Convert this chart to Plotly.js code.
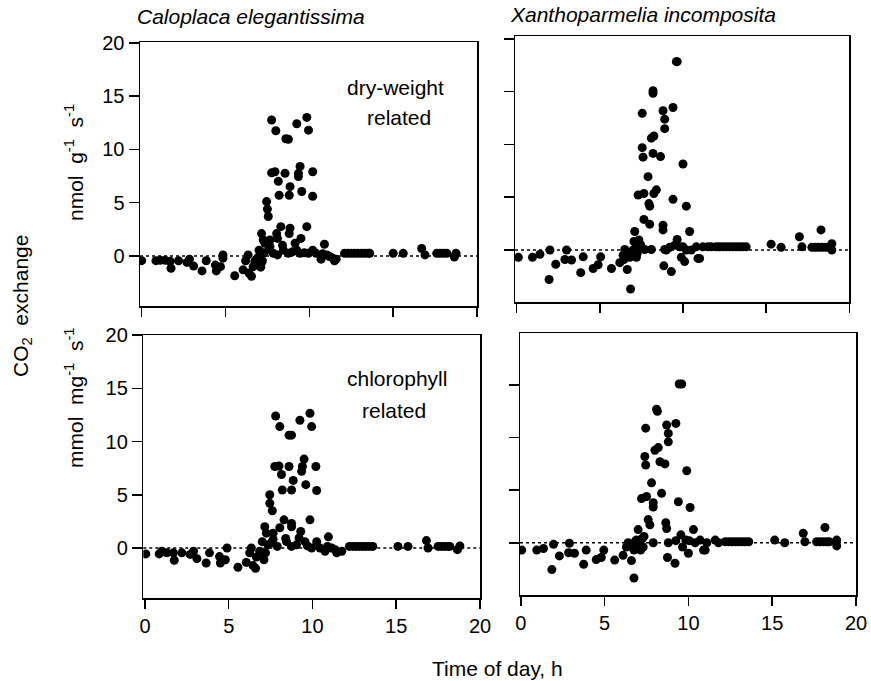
<!DOCTYPE html>
<html>
<head>
<meta charset="utf-8">
<script src="https://cdn.plot.ly/plotly-3.0.1.min.js"></script>
<style>html,body{margin:0;padding:0;background:#fff;}#chart{width:871px;height:681px;}</style>
</head>
<body>
<div id="chart"></div>
<script>
// ---------- data (time of day, h  /  CO2 exchange) ----------
const tickVals = [0, 5, 10, 15, 20];
const tickText = ["0", "5", "10", "15", "20"];

const speciesLeft = "Caloplaca elegantissima";
const speciesRight = "Xanthoparmelia incomposita";
const basisTop = ["dry-weight", "related"];
const basisBottom = ["chlorophyll", "related"];
const unitTop = "nmol  g<sup>-1</sup>  s<sup>-1</sup>";
const unitBottom = "mmol  mg<sup>-1</sup>  s<sup>-1</sup>";
const commonY = "CO<sub>2</sub>  exchange";
const commonX = "Time of day, h";

// Caloplaca elegantissima, dry-weight related
const caloDryX = [0, 0.85, 1.1, 1.4, 1.75, 1.7, 2.2, 2.7, 2.85, 3.1,
  3.6, 3.85, 4.4, 4.45, 4.7, 4.85, 4.85, 5.55, 6.05, 6.2,
  6.35, 6.4, 6.55, 6.65, 6.75, 6.95, 7.1, 7.15, 7.0, 7.2,
  7.15, 7.25, 7.35, 7.45, 7.5, 7.55, 7.65, 7.65, 7.75, 7.75,
  7.85, 7.95, 8.0, 8.05, 8.1, 8.1, 8.15, 8.2, 8.3, 8.45,
  8.55, 8.6, 8.75, 8.75, 8.8, 8.85, 8.85, 8.8, 9.15, 9.25,
  9.25, 9.35, 9.35, 9.45, 9.45, 9.5, 9.55, 9.85, 9.85, 9.95,
  9.95, 10.2, 10.2, 10.2, 10.4, 10.7, 10.8, 10.9, 11.05, 11.2,
  11.4, 11.5, 11.6, 12.1, 12.3, 12.5, 12.7, 12.9, 13.1, 13.3,
  13.5, 13.6, 15.0, 15.6, 16.7, 16.9, 17.6, 17.8, 18.0, 18.2,
  18.65, 18.75, 6.85, 7.3, 7.6, 8.4, 9.0, 9.7];
const caloDryY = [-0.44, -0.44, -0.4, -0.4, -1.15, -0.5, -0.45, -0.6, -0.3, -0.95,
  -1.4, -0.45, -0.85, -1.4, -1.0, 0.1, -0.2, -1.85, -1.3, -0.45,
  0.1, -1.6, -1.9, -1.0, -0.5, -0.1, -1.05, -0.6, 0.55, -0.45,
  2.1, 1.5, 1.2, 5.1, 4.4, 3.7, 1.5, 0.9, 12.75, 7.8,
  0.25, 7.9, 11.75, 2.1, 1.65, 0.1, 7.0, 5.7, 2.75, 0.55,
  7.75, 11.0, 10.95, 0.25, 5.7, 6.5, 2.6, 2.1, 1.2, 0.55,
  12.4, 7.75, 7.45, 8.4, 0.25, 1.65, 6.05, 13.0, 2.75, 11.8,
  0.25, 7.9, 5.6, 0.55, 0.25, -0.3, 0.2, 1.1, 0.1, -0.05,
  -0.2, -0.45, -0.3, 0.25, 0.25, 0.25, 0.25, 0.25, 0.25, 0.25,
  0.25, 0.25, 0.25, 0.25, 0.7, 0.1, 0.25, 0.25, 0.25, 0.25,
  -0.1, 0.25, -0.3, 0.3, 0.6, 1.0, 0.4, 0.3];

// Caloplaca elegantissima, chlorophyll related
const caloChlX = [0.05, 0.85, 1.0, 1.3, 1.75, 1.7, 2.2, 2.7, 2.9, 3.1,
  3.65, 3.85, 4.45, 4.5, 4.8, 4.9, 5.55, 6.05, 6.25, 6.35,
  6.45, 6.6, 6.65, 6.85, 7.0, 7.1, 7.2, 7.15, 7.25, 7.45,
  7.45, 7.6, 7.65, 7.65, 7.8, 7.75, 7.9, 8.0, 8.05, 8.05,
  8.15, 8.2, 8.3, 8.45, 8.6, 8.6, 8.75, 8.75, 8.75, 8.75,
  8.85, 8.75, 9.2, 9.25, 9.3, 9.35, 9.4, 9.5, 9.55, 9.6,
  9.85, 9.85, 9.95, 9.95, 10.2, 10.25, 10.25, 10.45, 10.75, 10.9,
  10.95, 11.15, 11.35, 11.45, 11.75, 12.2, 12.4, 12.6, 12.8, 13.0,
  13.2, 13.4, 13.6, 15.1, 15.7, 16.8, 16.9, 17.5, 17.7, 17.9,
  18.1, 18.2, 18.65, 18.8, 6.9, 7.35, 7.55, 8.4, 9.05, 9.7];
const caloChlY = [-0.55, -0.55, -0.3, -0.45, -1.15, -0.45, -0.45, -0.6, -0.3, -1.0,
  -1.4, -0.45, -0.8, -1.4, -1.1, 0.0, -1.8, -1.35, -0.45, 0.0,
  -1.65, -1.9, -0.85, -0.3, 0.6, -1.1, -0.45, 2.0, 1.4, 5.0,
  4.2, 3.5, 1.4, 0.8, 12.4, 7.65, 0.15, 7.7, 11.4, 1.9,
  6.9, 5.45, 2.65, 0.6, 7.65, 10.6, 10.6, 0.15, 2.3, 2.0,
  6.35, 5.45, 0.95, 12.0, 1.55, 7.2, 7.65, 8.35, 0.6, 5.95,
  12.65, 2.65, 11.4, 0.0, 7.65, 5.4, 0.6, 0.0, -0.3, 0.15,
  1.05, 0.0, -0.15, -0.45, -0.3, 0.15, 0.15, 0.15, 0.15, 0.15,
  0.15, 0.15, 0.15, 0.15, 0.15, 0.7, 0.0, 0.15, 0.15, 0.15,
  0.15, 0.15, -0.15, 0.2, -0.4, 0.3, 0.5, 0.9, 0.3, 0.2];

// Xanthoparmelia incomposita, dry-weight related
const xanDryX = [0.1, 0.95, 1.4, 2.0, 1.95, 2.35, 3.0, 2.9, 3.3, 3.85,
  4.0, 4.6, 4.9, 5.05, 5.7, 6.2, 6.4, 6.5, 6.65, 6.85,
  6.8, 7.0, 7.05, 7.1, 7.2, 7.35, 7.3, 7.55, 7.55, 7.6,
  7.65, 7.65, 7.7, 7.9, 7.95, 8.0, 8.0, 8.1, 8.2, 8.2,
  8.1, 8.25, 8.2, 8.25, 8.4, 8.65, 8.8, 8.8, 8.8, 8.85,
  8.9, 8.9, 8.9, 9.0, 9.3, 9.4, 9.4, 9.5, 9.6, 9.65,
  9.65, 9.9, 10.0, 10.1, 10.2, 10.2, 10.4, 10.5, 10.8, 10.9,
  11.0, 11.2, 11.5, 11.7, 12.0, 12.2, 12.4, 12.6, 12.8, 13.0,
  13.2, 13.4, 13.6, 13.8, 15.3, 15.9, 17.0, 17.15, 17.75, 17.95,
  18.15, 18.3, 18.35, 18.55, 18.75, 18.95, 18.95,
  6.6, 6.95, 7.15, 7.25, 7.4, 6.45, 9.2, 9.8, 10.0, 7.45];
const xanDryY = [-0.7, -0.7, -0.4, 0.0, -2.8, -1.35, 0.0, -0.9, -0.95, -2.15,
  -0.65, -1.75, -1.4, -0.65, -1.75, -1.2, -0.5, 0.05, -1.85, -3.7,
  -0.7, 0.0, 0.8, 1.75, -0.7, 0.95, 5.2, 12.95, 9.7, 8.8,
  5.35, 2.9, 0.05, 6.95, 4.4, 4.15, 2.45, 0.05, 15.1, 14.85,
  10.6, 10.8, 9.15, 5.35, 5.7, 8.85, 13.2, 2.35, 1.9, -1.5,
  12.4, 11.5, 0.05, 0.0, -2.05, 13.5, 4.8, 0.45, 17.85, 17.85,
  1.0, -0.7, 8.15, -1.1, 4.15, 0.0, 1.75, 0.0, 0.3, -0.8,
  -0.8, 0.3, 0.3, 0.3, 0.3, 0.3, 0.3, 0.3, 0.3, 0.3,
  0.3, 0.3, 0.3, 0.3, 0.55, 0.25, 1.25, 0.3, 0.25, 0.25,
  0.25, 1.9, 0.25, 0.25, 0.25, 0.6, 0.0,
  -0.3, -0.4, 0.2, -0.3, 0.4, -0.9, 0.25, 0.3, 0.3, 0.5];

// Xanthoparmelia incomposita, chlorophyll related
const xanChlX = [0.05, 0.95, 1.35, 1.95, 1.85, 2.3, 2.9, 2.85, 3.2, 3.75,
  3.9, 4.5, 4.8, 4.95, 5.6, 6.1, 6.3, 6.4, 6.6, 6.75,
  6.75, 6.9, 7.0, 7.15, 7.25, 7.2, 7.45, 7.4, 7.45, 7.5,
  7.6, 7.7, 7.9, 7.8, 7.9, 7.9, 8.1, 8.15, 8.0, 8.2,
  8.3, 8.4, 8.6, 8.65, 8.7, 8.7, 8.8, 8.8, 8.8, 8.75,
  9.2, 9.25, 9.4, 9.55, 9.45, 9.6, 9.65, 9.9, 10.0, 10.1,
  10.3, 10.4, 10.7, 10.9, 11.0, 11.1, 11.6, 11.8, 12.2, 12.4,
  12.6, 12.8, 13.0, 13.2, 13.4, 13.6, 15.15, 15.75, 16.85, 16.95,
  17.65, 17.85, 18.05, 18.15, 18.25, 18.4, 18.85, 18.85,
  6.55, 6.95, 7.1, 7.3, 6.85, 9.25, 9.85, 10.05, 7.35];
const xanChlY = [-0.7, -0.7, -0.55, -0.15, -2.55, -1.25, -0.05, -0.95, -1.0, -2.05,
  -0.7, -1.6, -1.4, -0.7, -1.65, -1.2, -0.4, 0.0, -1.7, -3.35,
  -0.7, 0.25, 1.25, -0.7, 0.4, 4.2, 10.9, 8.2, 7.4, 4.4,
  2.2, 1.7, 0.0, 5.7, 3.8, 3.4, 12.7, 12.5, 8.8, 9.05,
  7.7, 4.7, 7.5, 1.9, 1.35, 11.2, 10.4, 9.6, 0.0, -1.4,
  -1.95, 11.35, 3.9, 0.75, 15.1, 15.1, -0.4, 6.85, -1.0, 3.35,
  1.25, 0.0, 0.25, -0.7, -0.7, 0.0, 0.25, 0.0, 0.1, 0.1,
  0.1, 0.1, 0.1, 0.1, 0.1, 0.1, 0.25, 0.0, 0.9, 0.1,
  0.1, 0.1, 0.1, 1.45, 0.1, 0.1, 0.25, -0.3,
  -0.3, -0.3, 0.1, -0.4, 0.2, 0.2, 0.25, 0.2, 0.6];

// ---------- layout helpers (pixel -> paper) ----------
const W = 871, H = 681;
const px = v => v / W;
const py = v => 1 - v / H;

const markerStyle = {color: "#000", size: 9, line: {width: 0}};
function tr(x, y, xa, ya) {
  return {x: x, y: y, xaxis: xa, yaxis: ya, type: "scatter", mode: "markers",
          marker: markerStyle, hoverinfo: "x+y"};
}
const data = [
  tr(caloDryX, caloDryY, "x", "y"),
  tr(xanDryX, xanDryY, "x2", "y2"),
  tr(caloChlX, caloChlY, "x3", "y3"),
  tr(xanChlX, xanChlY, "x4", "y4")
];

const tickFont = {family: "Liberation Sans, Arial, Helvetica, sans-serif", size: 20, color: "#000"};
function xax(l, r, range, y, labels) {
  return {domain: [px(l), px(r)], range: range, anchor: y, tickmode: "array",
    tickvals: tickVals, ticktext: tickText, showticklabels: labels, ticks: "outside",
    ticklen: 9, tickwidth: 1.5, tickcolor: "#000", showline: true, mirror: true,
    linewidth: 1.5, linecolor: "#000", showgrid: false, zeroline: false, tickfont: tickFont};
}
function yax(t, b, range, x, labels) {
  return {domain: [py(b), py(t)], range: range, anchor: x, tickmode: "array",
    tickvals: tickVals, ticktext: tickText, showticklabels: labels, ticks: "outside",
    ticklen: 10, tickwidth: 1.5, tickcolor: "#000", showline: true, mirror: true,
    linewidth: 1.5, linecolor: "#000", showgrid: false, zeroline: false, tickfont: tickFont};
}

const textFont = {family: "Liberation Sans, Arial, Helvetica, sans-serif", size: 21, color: "#000"};
const italicFont = {family: "Liberation Sans, Arial, Helvetica, sans-serif", size: 21, color: "#000", style: "italic"};
function ann(text, x, y, font, angle) {
  return {text: text, xref: "paper", yref: "paper", x: px(x), y: py(y),
    xanchor: "center", yanchor: "middle", showarrow: false, font: font, textangle: angle || 0};
}

function zeroLine(xa, ya) {
  return {type: "line", xref: xa + " domain", yref: ya, x0: 0, x1: 1, y0: 0, y1: 0,
    line: {color: "#000", width: 1.5, dash: "dot"}, layer: "below"};
}

const layout = {
  width: W, height: H, margin: {l: 0, r: 0, t: 0, b: 0},
  paper_bgcolor: "#fff", plot_bgcolor: "rgba(0,0,0,0)", showlegend: false,
  xaxis: xax(140, 477, [-0.1, 20], "y", false),
  yaxis: yax(42, 306, [-4.69, 20.07], "x", true),
  xaxis2: xax(515, 849.3, [-0.1, 20], "y2", false),
  yaxis2: yax(36, 302, [-4.93, 20.28], "x2", false),
  xaxis3: xax(143.3, 480, [-0.1, 20], "y3", true),
  yaxis3: yax(335, 598, [-4.69, 20], "x3", true),
  xaxis4: xax(520, 856, [-0.05, 20], "y4", true),
  yaxis4: yax(333, 595, [-4.97, 19.95], "x4", false),
  shapes: [zeroLine("x", "y"), zeroLine("x2", "y2"), zeroLine("x3", "y3"), zeroLine("x4", "y4")],
  annotations: [
    ann(speciesLeft, 251, 17, italicFont),
    ann(speciesRight, 643, 15, italicFont),
    ann(basisTop[0], 395, 87, textFont),
    ann(basisTop[1], 399, 117, textFont),
    ann(basisBottom[0], 397, 378, textFont),
    ann(basisBottom[1], 394, 410, textFont),
    ann(unitTop, 74, 163, textFont, -90),
    ann(unitBottom, 74, 398, textFont, -90),
    ann(commonY, 22, 306, textFont, -90),
    ann(commonX, 497, 668, textFont)
  ]
};

Plotly.newPlot("chart", data, layout, {displayModeBar: false, staticPlot: true});
</script>
</body>
</html>
